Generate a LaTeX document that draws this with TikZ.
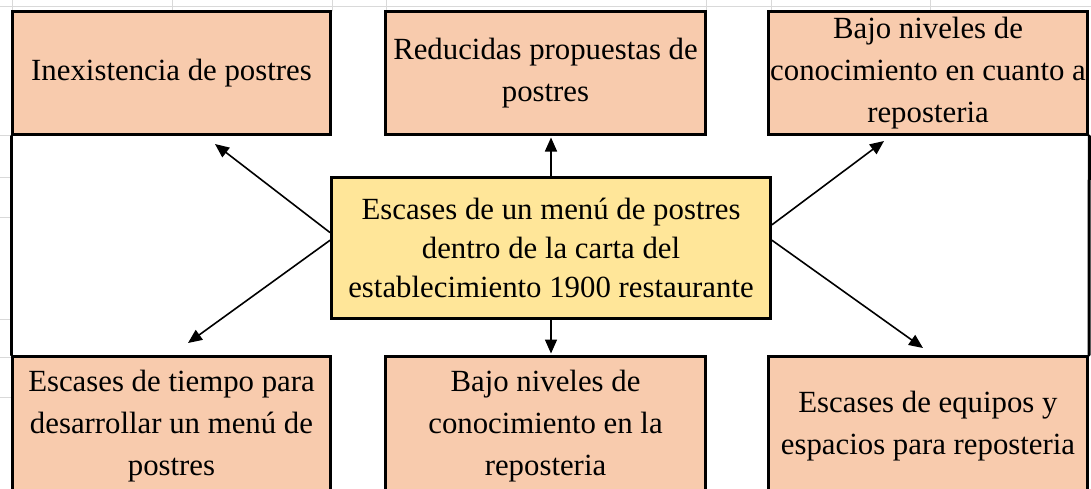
\documentclass[tikz,border=0pt]{standalone}
\usepackage{fontspec}
\setmainfont{Liberation Serif}
\usetikzlibrary{arrows.meta}
\definecolor{peach}{HTML}{F8CBAD}
\definecolor{gold}{HTML}{FFE699}
\definecolor{gridgray}{HTML}{D9D9D9}
\begin{document}
\begin{tikzpicture}[x=1pt, y=-1pt, line cap=round,
    box/.style={rectangle, draw=black, line width=3pt, line join=miter, fill=peach, align=center, inner sep=2pt, font=\fontsize{30.8}{42}\selectfont},
    problembox/.style={box, fill=gold, minimum width=439, minimum height=141, font=\fontsize{30.8}{39}\selectfont},
    arrow/.style={line width=1.6pt, -{Triangle[length=14pt, width=12pt]}},
    gridline/.style={draw=gridgray, line width=1pt}]
	\useasboundingbox (0,0) rectangle (1091,488);
	\clip (0,0) rectangle (1091,488);
	% Sheet grid
	\draw [gridline] (0,6) -- (1091,6);
	\foreach \gx in {12, 172, 332, 386, 706, 771, 930}
		\draw [gridline] (\gx,0) -- (\gx,11);
	\foreach \gy in {135, 177, 217, 319, 357, 397}
		\draw [gridline] (0,\gy) -- (11,\gy);
	% Problem
	\node [problembox] (problem) at (551, 248) {Escases de un menú de postres\\dentro de la carta del\\establecimiento 1900 restaurante};
	% Effects
	\foreach \px/\w/\t [count=\x] in {171.5/318/{Inexistencia de postres}, 545.5/320/{Reducidas propuestas de\\postres}, 928/319/{Bajo niveles de\\conocimiento en cuanto a\\reposteria}}
		\node [box, minimum width=\w, minimum height=123] (effect-\x) at (\px, 73) {\t};
	% Causes
	\foreach \px/\w/\t [count=\x] in {171.5/318/{Escases de tiempo para\\desarrollar un menú de\\postres}, 545.5/320/{Bajo niveles de\\conocimiento en la\\reposteria}, 928/319/{Escases de equipos y\\espacios para reposteria}}
		\node [box, minimum width=\w, minimum height=139] (cause-\x) at (\px, 426) {\t};
	% Sheet frame
	\draw [line width=3pt] (effect-1.south west) -- (cause-1.north west);
	\draw [line width=3pt] (effect-3.south east) -- (cause-3.north east);
	% Arrow tips
	\coordinate (tip-1) at (215, 144);
	\coordinate (tip-2) at (884, 141);
	\coordinate (tip-3) at (188, 343);
	\coordinate (tip-4) at (923, 348);
	% Arrows
	\draw [arrow, shorten >=1.5pt] (problem.north) -- (problem.north |- effect-2.south);
	\draw [arrow, shorten >=1.5pt] (problem.south) -- (problem.south |- cause-2.north);
	\draw [arrow] (problem.176) -- (tip-1);
	\draw [arrow] (problem.6) -- (tip-2);
	\draw [arrow] (problem.178) -- (tip-3);
	\draw [arrow] (problem.2) -- (tip-4);
\end{tikzpicture}
\end{document}
